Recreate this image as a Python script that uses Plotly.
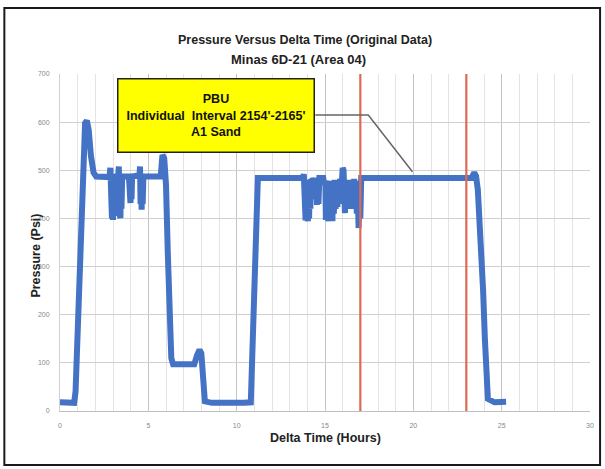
import plotly.graph_objects as go

# Pressure gauge record, well Minas 6D-21
time_hr = [
    0.0, 0.4, 0.8, 0.88, 1.0, 1.1, 1.2, 1.3, 1.42, 1.52, 1.62, 1.75, 1.9, 2.05, 2.5, 2.8,
    2.85, 2.88, 2.91, 2.94, 2.97, 3.0, 3.03, 3.06, 3.09, 3.12, 3.3, 3.33, 3.36, 3.39, 3.42,
    3.45, 3.48, 3.52, 3.9, 3.93, 3.96, 3.99, 4.02, 4.05, 4.08, 4.5, 4.53, 4.56, 4.59, 4.62,
    4.65, 4.68, 4.72, 5.7, 5.8, 5.9, 6.0, 6.1, 6.2, 6.3, 6.4,
    7.0, 7.6, 7.75, 7.9, 8.0, 8.1, 8.2, 8.6, 9.5, 10.4, 10.8, 10.9, 11.0, 11.1, 11.2, 12.0,
    13.0, 13.75, 13.8, 13.83, 13.86, 13.9, 13.93, 13.96, 14.0, 14.03, 14.06, 14.1, 14.13,
    14.17, 14.2, 14.25, 14.3, 14.35, 14.4, 14.45, 14.5, 14.55, 14.6, 14.63, 14.68, 14.9,
    14.95, 14.98, 15.02, 15.05, 15.08, 15.12, 15.15, 15.2, 15.23, 15.27, 15.3, 15.35, 15.38,
    15.42, 15.45, 15.5, 15.55, 15.6, 15.65, 15.7, 15.75, 15.8, 15.85, 15.9, 15.95, 16.0,
    16.05, 16.1, 16.13, 16.17, 16.2, 16.25, 16.3, 16.35, 16.4, 16.45, 16.5, 16.55, 16.6,
    16.65, 16.7, 16.75, 16.8, 16.85, 16.9, 16.95, 17.0, 17.05, 18.0, 20.0, 22.0, 23.3,
    23.45, 23.55, 23.65, 23.75, 23.85, 23.95, 24.05, 24.15, 24.22, 24.6, 25.0, 25.25,
]
pressure_psi = [
    18, 16, 17, 40, 160, 300, 420, 530, 598, 603, 585, 530, 495, 487, 487, 486,
    505, 420, 480, 400, 470, 397, 478, 405, 480, 487, 490, 508, 410, 470, 401,
    478, 420, 487, 487, 450, 470, 432, 470, 440, 487, 490, 508, 430, 475, 418,
    470, 430, 487, 487, 532, 525, 470, 330, 180, 110, 97,
    96, 97, 115, 127, 120, 60, 20, 17, 16, 17, 18, 150, 330, 460, 484, 484,
    484, 484, 492, 410, 470, 396, 480, 400, 470, 394, 475, 400, 478,
    420, 482, 440, 484, 470, 484, 440, 478, 428, 470, 430, 484, 484,
    470, 400, 478, 397, 470, 400, 478, 394, 470, 398, 475, 405, 478,
    394, 470, 410, 480, 420, 470, 424, 478, 430, 482, 440, 490, 505,
    500, 470, 411, 478, 420, 475, 432, 480, 430, 478, 420, 470, 432,
    482, 440, 478, 410, 470, 380, 450, 400, 484, 484, 484, 484, 484,
    495, 488, 460, 400, 330, 250, 150, 60, 25, 18, 20, 19,
]

# Shut-in markers (hours)
marker_times = [17, 23]

x_ticks = [0, 5, 10, 15, 20, 25, 30]
y_ticks = [0, 100, 200, 300, 400, 500, 600, 700]

fig = go.Figure()

fig.add_trace(go.Scatter(
    x=time_hr, y=pressure_psi, mode="lines",
    line=dict(color="#4472c4", width=6),
    showlegend=False, hoverinfo="x+y",
))

for t in marker_times:
    fig.add_shape(type="line", xref="x", yref="y", x0=t, x1=t, y0=0, y1=700,
                  line=dict(color="#dc6a55", width=2.2), layer="above")

# Callout connector
fig.add_shape(type="path", xref="x", yref="y",
              path="M 14.45,615 L 17.45,615 L 19.95,497",
              line=dict(color="#666666", width=1.5), layer="above")

fig.add_annotation(
    x=8.83, y=614, xref="x", yref="y", xanchor="center", yanchor="middle",
    text="PBU<br>Individual  Interval 2154'-2165'<br>A1 Sand",
    showarrow=False, align="center",
    font=dict(family="Liberation Sans", size=12.5, color="#111111", weight="bold"),
    bgcolor="#ffff00", bordercolor="#222222", borderwidth=1.5, borderpad=1,
    width=193, height=70,
)

# Title lines
fig.add_annotation(x=0.462, y=1.128, xref="paper", yref="paper", showarrow=False,
                   text="Pressure Versus Delta Time (Original Data)",
                   font=dict(family="Liberation Sans", size=12.5, color="#222222", weight="bold"))
fig.add_annotation(x=0.45, y=1.071, xref="paper", yref="paper", showarrow=False,
                   text="Minas 6D-21 (Area 04)",
                   font=dict(family="Liberation Sans", size=13, color="#222222", weight="bold"))

# Axis titles
fig.add_annotation(x=0.5, y=-0.107, xref="paper", yref="paper", showarrow=False,
                   text="Delta Time (Hours)",
                   font=dict(family="Liberation Sans", size=12.5, color="#222222", weight="bold"))
fig.add_annotation(x=-0.063, y=0.46, xref="paper", yref="paper", showarrow=False,
                   text="Pressure (Psi)", textangle=-90,
                   font=dict(family="Liberation Sans", size=12.5, color="#222222", weight="bold"))

# Outer frame
fig.add_shape(type="rect", xref="paper", yref="paper",
              x0=-0.105, x1=1.019, y0=-0.160, y1=1.196,
              line=dict(color="#1a1a1a", width=2), layer="below")

fig.update_xaxes(
    range=[0, 30], tickvals=x_ticks, ticktext=[str(v) for v in x_ticks],
    showgrid=True, gridcolor="#c4c4c4", gridwidth=1,
    minor=dict(dtick=1, showgrid=True, gridcolor="#e4e4e4", gridwidth=1),
    showline=True, linecolor="#bfbfbf", linewidth=1, mirror=False,
    zeroline=False, ticks="", ticklabelstandoff=8,
    tickfont=dict(family="Liberation Sans", size=7, color="#888888"),
)
fig.update_yaxes(
    range=[0, 700], tickvals=y_ticks, ticktext=[str(v) for v in y_ticks],
    showgrid=True, gridcolor="#d0d0d0", gridwidth=1,
    showline=True, linecolor="#d0d0d0", linewidth=1,
    zeroline=False, ticks="", ticklabelstandoff=8,
    tickfont=dict(family="Liberation Sans", size=7, color="#888888"),
)

fig.update_layout(
    width=605, height=469,
    margin=dict(l=60, r=15, t=74, b=58),
    paper_bgcolor="white", plot_bgcolor="white",
    showlegend=False,
)

fig.write_html("out.html")
